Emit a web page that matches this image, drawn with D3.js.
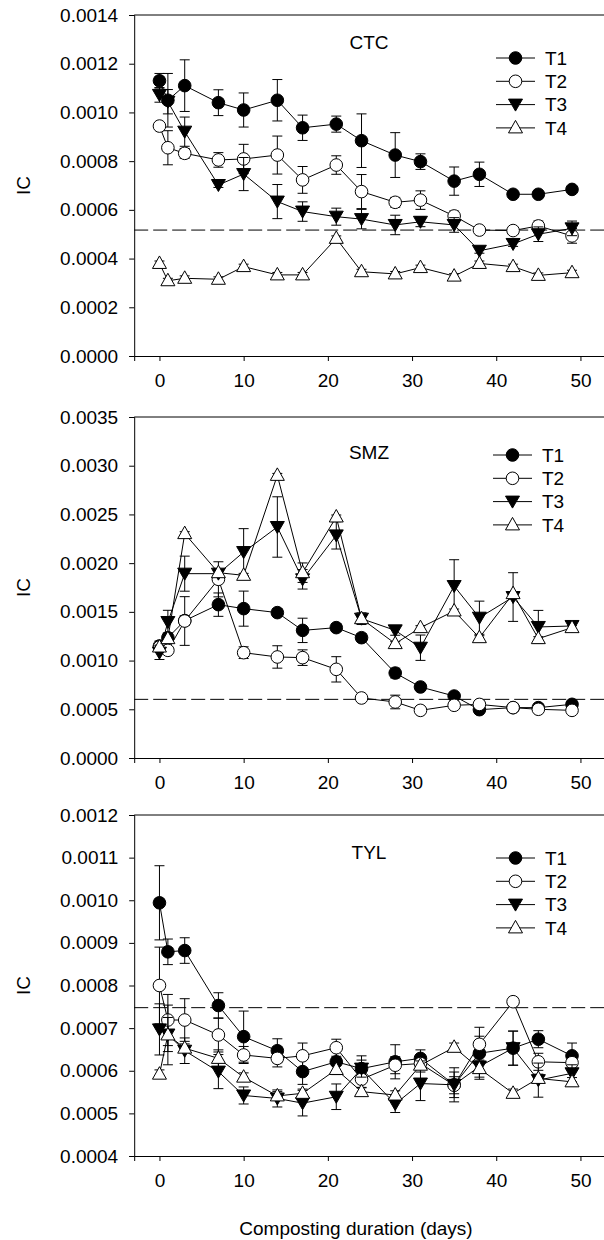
<!DOCTYPE html>
<html>
<head>
<meta charset="utf-8">
<script src="https://cdn.jsdelivr.net/npm/d3@7"></script>
<style>
  body { margin: 0; background: #fff; }
  svg text { font-family: "Liberation Sans", Arial, sans-serif; fill: #000; }
</style>
</head>
<body>
<svg id="chart" width="604" height="1240"></svg>
<script>
// sampling days
var days = [0, 1, 3, 7, 10, 14, 17, 21, 24, 28, 31, 35, 38, 42, 45, 49];
var seriesNames = ["T1", "T2", "T3", "T4"];

// CTC panel
var ctcT1 = [0.00113, 0.00105, 0.00111, 0.00104, 0.00101, 0.00105, 0.000937, 0.000952, 0.000884, 0.000825, 0.000798, 0.000718, 0.000746, 0.000664, 0.000664, 0.000684];
var ctcT1Err = [0.00003, 0.00011, 0.000106, 0.000053, 0.00007, 0.000085, 0.000052, 0.000033, 0.00011, 0.000092, 0.000032, 0.000058, 0.00005, 0.00001, 0.00001, 0.00001];
var ctcT2 = [0.000944, 0.000855, 0.000832, 0.000805, 0.000809, 0.000825, 0.000723, 0.000784, 0.000675, 0.000631, 0.00064, 0.000575, 0.000517, 0.000515, 0.000534, 0.000493];
var ctcT2Err = [0.00001, 0.00007, 0.00002, 0.00003, 0.00006, 0.000078, 0.000055, 0.000038, 0.00007, 0.00002, 0.000038, 0.00002, 0.00001, 0.00001, 0.00002, 0.00003];
var ctcT3 = [0.001072, 0.001044, 0.000921, 0.000702, 0.000747, 0.000634, 0.000593, 0.000572, 0.000562, 0.000538, 0.000551, 0.000538, 0.000432, 0.00046, 0.0005, 0.000524];
var ctcT3Err = [0.00003, 0.00005, 0.00006, 0.00001, 0.000068, 0.00007, 0.00004, 0.000035, 0.00004, 0.00004, 0.00002, 0.00003, 0.00001, 0.00001, 0.00003, 0.00003];
var ctcT4 = [0.00038, 0.000309, 0.000319, 0.000315, 0.000367, 0.000333, 0.000333, 0.000483, 0.000346, 0.000337, 0.000363, 0.000328, 0.00038, 0.000367, 0.000331, 0.000342];
var ctcT4Err = [0.00001, 0.00001, 0.00001, 0.00001, 0.00001, 0.00001, 0.00001, 0.00001, 0.00001, 0.00001, 0.00001, 0.00001, 0.00001, 0.00001, 0.00001, 0.00001];
var ctcRef = 0.000517;
var ctcTicks = [0, 0.0002, 0.0004, 0.0006, 0.0008, 0.0010, 0.0012, 0.0014];

// SMZ panel
var smzT1 = [0.00115, 0.001235, 0.00141, 0.001574, 0.001533, 0.001492, 0.00131, 0.001338, 0.001235, 0.000872, 0.000729, 0.000636, 0.000496, 0.000517, 0.000517, 0.000551];
var smzT1Err = [0.00005, 0.00005, 0.00005, 0.00012, 0.00018, 0.00004, 0.000125, 0.00004, 0.00004, 0.00005, 0.00003, 0.00003, 0.00003, 0.00002, 0.00002, 0.00002];
var smzT2 = [0.001139, 0.001105, 0.001406, 0.001834, 0.001081, 0.001037, 0.00103, 0.00091, 0.000616, 0.000575, 0.000489, 0.000541, 0.00055, 0.000517, 0.0005, 0.000489];
var smzT2Err = [0.00003, 0.00003, 0.00025, 0.00018, 0.00006, 0.000115, 0.00008, 0.00013, 0.00003, 0.00007, 0.00002, 0.00002, 0.00002, 0.00002, 0.00002, 0.00002];
var smzT3 = [0.001081, 0.001396, 0.001892, 0.001892, 0.002114, 0.002371, 0.001834, 0.002285, 0.00143, 0.00131, 0.001132, 0.001765, 0.00144, 0.001652, 0.001345, 0.001355];
var smzT3Err = [0.00007, 0.00012, 0.00018, 0.00003, 0.00024, 0.00031, 0.0001, 0.00014, 0.00006, 0.00005, 0.00013, 0.00027, 0.00017, 0.00025, 0.00017, 0.00003];
var smzT4 = [0.001139, 0.001225, 0.002303, 0.001902, 0.001875, 0.002901, 0.001902, 0.002474, 0.00143, 0.001174, 0.001338, 0.001509, 0.001235, 0.001687, 0.001225, 0.001338];
var smzT4Err = [0.00002, 0.00002, 0.00002, 0.00002, 0.00002, 0.00002, 0.0001, 0.00002, 0.00002, 0.00002, 0.00002, 0.00002, 0.00002, 0.00002, 0.00002, 0.00002];
var smzRef = 0.000602;
var smzTicks = [0, 0.0005, 0.0010, 0.0015, 0.0020, 0.0025, 0.0030, 0.0035];

// TYL panel
var tylT1 = [0.000994, 0.000879, 0.000882, 0.000753, 0.00068, 0.000647, 0.000598, 0.000621, 0.000605, 0.000621, 0.000629, 0.000567, 0.000641, 0.000653, 0.000674, 0.000635];
var tylT1Err = [0.000087, 0.00003, 0.00003, 0.00003, 0.00006, 0.000028, 0.00003, 0.00003, 0.00003, 0.00004, 0.00002, 0.00003, 0.00004, 0.00004, 0.00002, 0.00003];
var tylT2 = [0.0008, 0.000719, 0.000719, 0.000684, 0.000637, 0.000629, 0.000635, 0.000654, 0.00058, 0.000613, 0.000617, 0.000566, 0.000662, 0.000762, 0.000621, 0.000619];
var tylT2Err = [0.00009, 0.00006, 0.00005, 0.00004, 0.00002, 0.00002, 0.00003, 0.00002, 0.00002, 0.00002, 0.00002, 0.00002, 0.00004, 0.00001, 0.00002, 0.00002];
var tylT3 = [0.000697, 0.000685, 0.000647, 0.000598, 0.000542, 0.000535, 0.000524, 0.000539, 0.000605, 0.000522, 0.00057, 0.000567, 0.00061, 0.000653, 0.000578, 0.000594];
var tylT3Err = [0.00006, 0.00004, 0.00003, 0.00004, 0.00002, 0.00002, 0.00003, 0.00003, 0.00002, 0.00002, 0.00004, 0.00004, 0.00003, 0.00004, 0.00004, 0.00002];
var tylT4 = [0.000592, 0.000684, 0.000653, 0.000629, 0.000585, 0.000541, 0.000547, 0.000603, 0.000551, 0.000543, 0.000613, 0.000655, 0.000605, 0.000547, 0.000582, 0.000574];
var tylT4Err = [0.00001, 0.00007, 0.00001, 0.00002, 0.00001, 0.00001, 0.00001, 0.00001, 0.00001, 0.00001, 0.00001, 0.00001, 0.00002, 0.00001, 0.00001, 0.00001];
var tylRef = 0.000748;
var tylTicks = [0.0004, 0.0005, 0.0006, 0.0007, 0.0008, 0.0009, 0.0010, 0.0011, 0.0012];

var xTicks = [0, 10, 20, 30, 40, 50];

// panel layout
var panels = [
  { name: "CTC", top: 15, bottom: 356, domain: [0, 0.0014], ticks: ctcTicks, ref: ctcRef,
    vals: [ctcT1, ctcT2, ctcT3, ctcT4], errs: [ctcT1Err, ctcT2Err, ctcT3Err, ctcT4Err],
    labelY: 27, legendY: 43, legendX: 496 },
  { name: "SMZ", top: 417, bottom: 758, domain: [0, 0.0035], ticks: smzTicks, ref: smzRef,
    vals: [smzT1, smzT2, smzT3, smzT4], errs: [smzT1Err, smzT2Err, smzT3Err, smzT4Err],
    labelY: 35, legendY: 38, legendX: 493 },
  { name: "TYL", top: 815, bottom: 1156, domain: [0.0004, 0.0012], ticks: tylTicks, ref: tylRef,
    vals: [tylT1, tylT2, tylT3, tylT4], errs: [tylT1Err, tylT2Err, tylT3Err, tylT4Err],
    labelY: 37, legendY: 43, legendX: 496 }
];

var svg = d3.select("#chart");
var x = d3.scaleLinear().domain([-3, 53]).range([134.2, 605.7]);
var fmt = d3.format(".4f");

// marker shapes
var downTri = "M-7,-5.5L7,-5.5L0,6.5Z";
var upTri = "M0,-7.5L7,5L-7,5Z";
function drawMarker(g, i, cx, cy) {
  if (i < 2) {
    g.append("circle").attr("cx", cx).attr("cy", cy).attr("r", 6.3)
      .attr("fill", i === 0 ? "#000" : "#fff").attr("stroke", "#000").attr("stroke-width", 1);
  } else {
    g.append("path").attr("d", i === 2 ? downTri : upTri)
      .attr("transform", "translate(" + cx + "," + cy + ")")
      .attr("fill", i === 2 ? "#000" : "#fff").attr("stroke", "#000").attr("stroke-width", 1);
  }
}

panels.forEach(function(p) {
  var y = d3.scaleLinear().domain(p.domain).range([p.bottom, p.top]);
  var g = svg.append("g");

  // top frame
  g.append("line").attr("x1", x.range()[0]).attr("x2", 604).attr("y1", p.top).attr("y2", p.top)
    .attr("stroke", "#000").attr("stroke-width", 1);

  var yAxis = g.append("g").attr("transform", "translate(" + x.range()[0] + ",0)")
    .call(d3.axisLeft(y).tickValues(p.ticks).tickFormat(fmt).tickSize(5).tickPadding(11));
  var xAxis = g.append("g").attr("transform", "translate(0," + p.bottom + ")")
    .call(d3.axisBottom(x).tickValues(xTicks).tickSize(5).tickPadding(13));
  [yAxis, xAxis].forEach(function(a) {
    a.select(".domain").attr("stroke", "#000");
    a.selectAll(".tick line").attr("stroke", "#000");
    a.selectAll("text").style("font-size", "19px").attr("fill", "#000");
  });

  // y title
  g.append("text").attr("transform", "translate(23," + ((p.top + p.bottom) / 2) + ") rotate(-90)")
    .attr("text-anchor", "middle").attr("dy", "0.35em").style("font-size", "19px").text("IC");

  // reference line
  g.append("line").attr("x1", x.range()[0]).attr("x2", 604)
    .attr("y1", y(p.ref)).attr("y2", y(p.ref))
    .attr("stroke", "#000").attr("stroke-width", 1).attr("stroke-dasharray", "14,5");

  var line = d3.line().x(function(d) { return x(d[0]); }).y(function(d) { return y(d[1]); });

  p.vals.forEach(function(vals, i) {
    var errs = p.errs[i];
    var pts = days.map(function(d, k) { return [d, vals[k], errs[k]]; });
    var sg = g.append("g");
    sg.append("path").datum(pts).attr("d", line).attr("fill", "none")
      .attr("stroke", "#000").attr("stroke-width", 1);
    pts.forEach(function(d) {
      var cx = x(d[0]), y0 = y(d[1] - d[2]), y1 = y(d[1] + d[2]);
      sg.append("line").attr("x1", cx).attr("x2", cx).attr("y1", y0).attr("y2", y1).attr("stroke", "#000");
      sg.append("line").attr("x1", cx - 5).attr("x2", cx + 5).attr("y1", y0).attr("y2", y0).attr("stroke", "#000");
      sg.append("line").attr("x1", cx - 5).attr("x2", cx + 5).attr("y1", y1).attr("y2", y1).attr("stroke", "#000");
    });
    pts.forEach(function(d) { drawMarker(sg, i, x(d[0]), y(d[1])); });
  });

  // panel label
  g.append("text").attr("x", 369).attr("y", p.top + p.labelY).attr("dy", "0.35em")
    .attr("text-anchor", "middle").style("font-size", "19px").text(p.name);

  // legend
  seriesNames.forEach(function(n, i) {
    var ly = p.top + p.legendY + i * 23.3;
    g.append("line").attr("x1", p.legendX).attr("x2", p.legendX + 39).attr("y1", ly).attr("y2", ly)
      .attr("stroke", "#000");
    drawMarker(g, i, p.legendX + 19.5, ly);
    g.append("text").attr("x", p.legendX + 49).attr("y", ly).attr("dy", "0.35em")
      .style("font-size", "19px").text(n);
  });
});

svg.append("text").attr("x", 356).attr("y", 1228).attr("dy", "0.35em")
  .attr("text-anchor", "middle").style("font-size", "19px").text("Composting duration (days)");
</script>
</body>
</html>
